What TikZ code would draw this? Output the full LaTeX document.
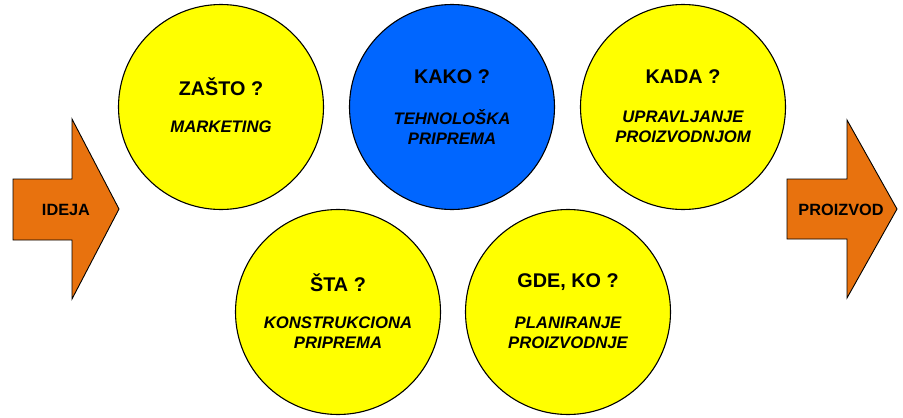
\documentclass[tikz,border=0pt]{standalone}
\usepackage{fontspec}
\setmainfont{Liberation Sans}
\usetikzlibrary{calc}
\definecolor{cyel}{RGB}{255,255,0}
\definecolor{cblue}{RGB}{0,102,255}
\definecolor{corange}{RGB}{232,114,14}
\tikzset{
  ball/.style={circle,draw=black,line width=1.1pt,minimum size=205pt,inner sep=0pt},
  head/.style={font=\fontsize{19.8pt}{23pt}\selectfont\bfseries,inner sep=0pt,anchor=center},
  sub/.style={font=\fontsize{16.7pt}{20pt}\selectfont\bfseries\itshape,inner sep=0pt,align=center,anchor=center},
  arr/.style={draw=black,line width=0.9pt,fill=corange,line join=miter},
  arrtext/.style={font=\fontsize{16.3pt}{19pt}\selectfont\bfseries,inner sep=0pt,anchor=center}
}
\begin{document}
\begin{tikzpicture}[x=1pt,y=-1pt]
\useasboundingbox (0,0) rectangle (903,418);
% arrows
\path[arr] (13,179) -- (72,179) -- (72,119) -- (119,209) -- (72,299) -- (72,240) -- (13,240) -- cycle;
\path[arr] (787,179) -- (847,179) -- (847,120) -- (897,209) -- (847,298) -- (847,239) -- (787,239) -- cycle;
\node[arrtext] (ideja) at (66,209.5) {IDEJA};
\node[arrtext] (proizvod) at (841,209.5) {PROIZVOD};
% circles
\node[ball,fill=cyel] (zasto) at (221,107) {};
\node[ball,fill=cblue] (kako) at (452,107) {};
\node[ball,fill=cyel] (kada) at (683,107) {};
\node[ball,fill=cyel] (sta) at (338,312) {};
\node[ball,fill=cyel] (gde) at (568,312) {};
% texts
\node[head] (t1) at ($(zasto)+(0,-20.5)$) {ZAŠTO ?};
\node[sub] (s1) at ($(zasto)+(0,20)$) {MARKETING};
\node[head] (t2) at ($(kako)+(0,-30.5)$) {KAKO ?};
\node[sub] (s2) at ($(kako)+(0,20)$) {TEHNOLOŠKA\\PRIPREMA};
\node[head] (t3) at ($(kada)+(0,-30.5)$) {KADA ?};
\node[sub] (s3) at ($(kada)+(0,20)$) {UPRAVLJANJE\\PROIZVODNJOM};
\node[head] (t4) at ($(sta)+(0,-29.5)$) {ŠTA ?};
\node[sub] (s4) at ($(sta)+(0,20.5)$) {KONSTRUKCIONA\\PRIPREMA};
\node[head] (t5) at ($(gde)+(0,-29.5)$) {GDE, KO ?};
\node[sub] (s5) at ($(gde)+(0,20.5)$) {PLANIRANJE\\PROIZVODNJE};
\end{tikzpicture}
\end{document}
